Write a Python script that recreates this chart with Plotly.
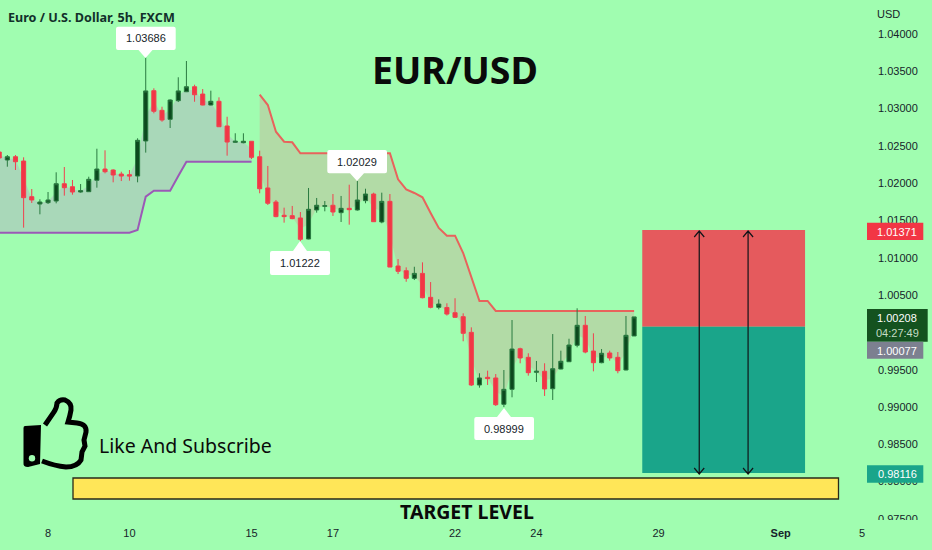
import plotly.graph_objects as go

BG = "#A0FDB0"
INK = "#16242A"

opens = [1.02418,1.02311,1.02355,1.02297,1.01819,1.01721,1.01739,1.01761,1.01993,1.01953,
         1.01882,1.01886,1.02039,1.02190,1.02177,1.02123,1.02114,1.02096,1.02566,1.03240,
         1.02977,1.02856,1.03106,1.03226,1.03293,1.03195,1.03048,1.03098,1.02767,1.02548,
         1.02543,1.02562,1.02355,1.01936,1.01748,1.01570,1.01565,1.01534,1.01252,1.01641,
         1.01690,1.01704,1.01605,1.01663,1.01641,1.01766,1.01855,1.01480,1.01757,1.00890,
         1.00827,1.00725,1.00791,1.00470,1.00336,1.00334,1.00264,1.00211,1.00001,0.99295,
         0.99398,0.99389,0.99036,0.99237,0.99781,0.99666,0.99465,0.99479,0.99245,0.99509,
         0.99607,0.99827,1.00095,0.99750,0.99594,0.99724,0.99666,0.99496,0.99952]
highs = [1.02445,1.02378,1.02378,1.02347,1.01922,1.01784,1.01882,1.02146,1.02217,1.02043,
         1.01989,1.02087,1.02462,1.02441,1.02186,1.02154,1.02177,1.02602,1.03686,1.03272,
         1.03025,1.03124,1.03420,1.03638,1.03320,1.03262,1.03240,1.03151,1.02891,1.02669,
         1.02669,1.02562,1.02436,1.02231,1.01775,1.01672,1.01695,1.01614,1.01936,1.01802,
         1.01761,1.01855,1.01829,1.01980,1.02029,1.01926,1.01873,1.01873,1.01855,1.00983,
         1.00872,1.00880,1.00939,1.00675,1.00443,1.00390,1.00458,1.00256,1.00068,0.99452,
         0.99487,0.99442,0.99496,1.00166,0.99795,0.99720,0.99617,0.99586,0.99978,0.99755,
         0.99915,1.00323,1.00220,0.99988,0.99777,0.99755,0.99737,1.00220,1.00208]
lows = [1.02311,1.02221,1.02177,1.01404,1.01735,1.01583,1.01721,1.01730,1.01833,1.01846,
        1.01873,1.01882,1.01940,1.02132,1.02012,1.02029,1.02034,1.02012,1.02410,1.02937,
        1.02824,1.02740,1.03088,1.03222,1.03092,1.03044,1.03044,1.02757,1.02369,1.02543,
        1.02535,1.02324,1.01865,1.01708,1.01544,1.01471,1.01517,1.01222,1.01248,1.01605,
        1.01623,1.01561,1.01480,1.01444,1.01632,1.01731,1.01480,1.01463,1.00876,1.00782,
        1.00679,1.00702,1.00457,1.00323,1.00309,1.00226,1.00195,0.99881,0.99281,0.99259,
        0.99295,0.99014,0.98999,0.99130,0.99586,0.99420,0.99335,0.99148,0.99094,0.99505,
        0.99603,0.99800,0.99720,0.99478,0.99586,0.99621,0.99452,0.99492,0.99952]
closes = [1.02338,1.02355,1.02288,1.01806,1.01775,1.01748,1.01775,1.01993,1.01940,1.01882,
          1.01900,1.02052,1.02190,1.02154,1.02110,1.02096,1.02096,1.02575,1.03237,1.02964,
          1.02847,1.03115,1.03237,1.03293,1.03186,1.03048,1.03098,1.02757,1.02552,1.02562,
          1.02562,1.02347,1.01926,1.01731,1.01552,1.01552,1.01525,1.01248,1.01650,1.01704,
          1.01698,1.01614,1.01663,1.01645,1.01775,1.01855,1.01484,1.01757,1.00876,1.00819,
          1.00725,1.00791,1.00465,1.00336,1.00380,1.00246,1.00202,0.99988,0.99295,0.99389,
          0.99380,0.99031,0.99237,0.99777,0.99657,0.99460,0.99479,0.99242,0.99513,0.99613,
          0.99831,1.00095,0.99737,0.99594,0.99720,0.99657,0.99487,0.99961,1.00208]
bar_index = list(range(len(opens)))

stop_up = [1.01337,1.01337,1.01337,1.01337,1.01337,1.01337,1.01337,1.01337,1.01337,1.01337,
           1.01337,1.01337,1.01337,1.01337,1.01337,1.01337,1.01337,1.01373,1.01819,1.01900,
           1.01900,1.01900,1.02096,1.02288,1.02288,1.02288,1.02288,1.02288,1.02288,1.02288,
           1.02288,1.02288]
stop_down = [1.03187,1.03048,1.02690,1.02556,1.02548,1.02401,1.02401,1.02401,1.02401,1.02401,
             1.02401,1.02401,1.02401,1.02401,1.02401,1.02401,1.02401,1.02052,1.01918,1.01869,
             1.01811,1.01601,1.01400,1.01297,1.01297,1.01064,1.00742,1.00421,1.00421,1.00287,
             1.00287,1.00287,1.00287,1.00287,1.00287,1.00287,1.00287,1.00287,1.00287,1.00287,
             1.00287,1.00287,1.00287,1.00287,1.00287,1.00287,1.00287]

y_ticks = [0.975,0.98,0.985,0.99,0.995,1.005,1.01,1.015,1.02,1.025,1.03,1.035,1.04]
x_tick_bars = [6,16,31,41,56,66,81,96,106]
x_tick_labels = ["8","10","15","17","22","24","29","<b>Sep</b>","5"]

entry, stop_price, target = 1.00077, 1.01371, 0.98116
last_price = 1.00208

W, H, PW, PH = 932, 550, 870, 525
X0, XS = -0.8, 8.14
def X(px): return (px - X0) / XS
def Y(py): return 1.04 - (py - 34) / 7460
def P(px, py): return f"{X(px):.4f},{Y(py):.6f}"

mid = [(o + c) / 2 for o, c in zip(opens, closes)]
fig = go.Figure()
n_up = len(stop_up)
fig.add_trace(go.Scatter(x=bar_index[:n_up], y=stop_up, mode="lines", line=dict(color="#9B59B6", width=2)))
fig.add_trace(go.Scatter(x=bar_index[:n_up], y=mid[:n_up], mode="lines", line=dict(width=0),
                         fill="tonexty", fillcolor="#A9D8B9"))
fig.add_trace(go.Scatter(x=bar_index[n_up:], y=stop_down, mode="lines", line=dict(color="#E8635C", width=2)))
fig.add_trace(go.Scatter(x=bar_index[n_up:], y=mid[n_up:], mode="lines", line=dict(width=0),
                         fill="tonexty", fillcolor="#B2DBA6"))
fig.add_trace(go.Candlestick(x=bar_index, open=opens, high=highs, low=lows, close=closes,
                             xaxis="x2", yaxis="y2",
                             increasing=dict(line=dict(color="#2A7A40", width=1), fillcolor="#0C4A1E"),
                             decreasing=dict(line=dict(color="#F0404F", width=1), fillcolor="#F23645")))

shapes = []
def rect(x0, y0, x1, y1, color, line=None, lw=0, xref="x", yref="y"):
    shapes.append(dict(type="rect", xref=xref, yref=yref, x0=x0, y0=y0, x1=x1, y1=y1, fillcolor=color,
                       line=dict(color=line or color, width=lw), layer="above"))

# position tool
rect(79, entry, 99, stop_price, "#E55A5D")
rect(79, target, 99, entry, "#1AA58A")
for bar in (86, 92):
    px = X0 + XS * bar
    path = (f"M {P(px,231)} L {P(px,474)} M {P(px-5,468)} L {P(px,474)} L {P(px+5,468)} "
            f"M {P(px-5,237)} L {P(px,231)} L {P(px+5,237)}")
    shapes.append(dict(type="path", path=path, xref="x", yref="y", line=dict(color="#101418", width=1.2), layer="above"))
# target bar
rect(X(73), Y(478), X(838.5), Y(499), "#FFE658", "#2A2A18", 1.3)

# callouts
def callout(bx0, by0, bx1, by1, tipx, tipy):
    r = 2
    tx = tipx
    if tipy < by0:
        path = (f"M {P(bx0+r,by0)} L {P(tx-7,by0)} L {P(tx,tipy)} L {P(tx+7,by0)} L {P(bx1-r,by0)} "
                f"Q {P(bx1,by0)} {P(bx1,by0+r)} L {P(bx1,by1-r)} Q {P(bx1,by1)} {P(bx1-r,by1)} "
                f"L {P(bx0+r,by1)} Q {P(bx0,by1)} {P(bx0,by1-r)} L {P(bx0,by0+r)} Q {P(bx0,by0)} {P(bx0+r,by0)} Z")
    else:
        path = (f"M {P(bx0+r,by0)} L {P(bx1-r,by0)} Q {P(bx1,by0)} {P(bx1,by0+r)} L {P(bx1,by1-r)} "
                f"Q {P(bx1,by1)} {P(bx1-r,by1)} L {P(tx+7,by1)} L {P(tx,tipy)} L {P(tx-7,by1)} "
                f"L {P(bx0+r,by1)} Q {P(bx0,by1)} {P(bx0,by1-r)} L {P(bx0,by0+r)} Q {P(bx0,by0)} {P(bx0+r,by0)} Z")
    shapes.append(dict(type="path", path=path, xref="x", yref="y", fillcolor="white", line=dict(width=0), layer="above"))
callout(116, 26.7, 175.7, 50, 145.5, 58)
callout(327.3, 150, 387, 173.3, 357, 181)
callout(270, 251, 330, 275, 300, 241)
callout(474.3, 417, 534, 440, 504, 408)

# price scale tags and clipped bottom label
rect(867/PW, Y(222.7), 923.3/PW, Y(240), "#F23645", xref="paper")
rect(867/PW, Y(309), 927.7/PW, Y(341.7), "#14521F", xref="paper")
rect(867/PW, Y(341.7), 923.3/PW, Y(358.7), "#7C8090", xref="paper")
rect(867/PW, Y(465.3), 923.3/PW, Y(482.7), "#1AA58A", xref="paper")
rect(871/PW, Y(520), 1.0712, Y(525), BG, xref="paper")

# thumb icon
thumb = (f"M {P(45,425)} L {P(54,412)} Q {P(57,407)} {P(57,403)} Q {P(60,399)} {P(65,400)} "
         f"Q {P(72,403)} {P(71,410)} Q {P(70,416)} {P(68,422)} L {P(77,423)} Q {P(87,424)} {P(86,432)} "
         f"L {P(84,440)} L {P(85,446)} L {P(82,452)} L {P(81,460)} Q {P(77,467)} {P(66,467)} "
         f"Q {P(55,466)} {P(42,461)}")
shapes.append(dict(type="path", path=thumb, xref="x", yref="y", line=dict(color="black", width=5), layer="above"))
cuff = (f"M {P(25,426)} L {P(41,425)} L {P(40,464)} L {P(28,467)} Q {P(23,467)} {P(23.5,463)} "
        f"L {P(23.5,428)} Q {P(23.5,426)} {P(25,426)} Z")
shapes.append(dict(type="path", path=cuff, xref="x", yref="y", fillcolor="black", line=dict(width=0), layer="above"))
shapes.append(dict(type="circle", xref="x", yref="y", x0=X(28.8), x1=X(35.2), y0=Y(461.5), y1=Y(455),
                   fillcolor=BG, line=dict(width=0), layer="above"))

annotations = []
def label(px, py, text, size, color=INK, family="Liberation Sans", anchor="center"):
    annotations.append(dict(x=px/PW, y=1-py/PH, xref="paper", yref="paper", text=text, showarrow=False,
                            xanchor=anchor, yanchor="middle", font=dict(size=size, color=color, family=family),
                            borderpad=0, borderwidth=0))
label(8, 17, "<b>Euro / U.S. Dollar, 5h, FXCM</b>", 12.6, "#12302A", "Noto Sans", "left")
label(888, 14, "USD", 11)
label(455, 69, "<b>EUR/USD</b>", 37.5, "#0A0A0A", "Noto Sans")
label(467, 511, "<b>TARGET LEVEL</b>", 19.5, "#0A0A0A", "Noto Sans")
label(99, 445, "Like And Subscribe", 19.5, "#0A0A0A", "Noto Sans", "left")
label(145.5, 38, "1.03686", 11)
label(357, 161.5, "1.02029", 11)
label(300, 263, "1.01222", 11)
label(504, 428.5, "0.98999", 11)
label(897, 231.5, "1.01371", 11, "white")
label(897, 318, "1.00208", 11, "white")
label(897, 333, "04:27:49", 11, "#C4DCC4")
label(897, 350.5, "1.00077", 11, "white")
label(897, 474, "0.98116", 11, "white")

common_x = dict(range=[X(0), X(PW)], rangeslider=dict(visible=False), showgrid=False, zeroline=False, showline=False)
common_y = dict(range=[Y(PH), Y(0)], showgrid=False, zeroline=False, showline=False)
fig.update_layout(
    width=W, height=H, margin=dict(l=0, r=W-PW, t=0, b=H-PH),
    paper_bgcolor=BG, plot_bgcolor=BG, showlegend=False, boxgap=0.28,
    shapes=shapes, annotations=annotations, font=dict(family="Liberation Sans", size=11, color=INK),
    xaxis=dict(common_x, tickmode="array", tickvals=x_tick_bars, ticktext=x_tick_labels, ticks="",
               tickfont=dict(size=11, color=INK)),
    yaxis=dict(common_y, side="right", tickmode="array",
               tickvals=y_ticks, ticktext=[f"{v:.5f}" for v in y_ticks], ticks="",
               ticklabelstandoff=7, tickfont=dict(size=11, color=INK)),
    xaxis2=dict(common_x, overlaying="x", visible=False),
    yaxis2=dict(common_y, overlaying="y", visible=False),
)
fig.write_html("out.html", config={"displayModeBar": False},
               post_script="document.body.style.margin='0';document.documentElement.style.overflow='hidden';")
